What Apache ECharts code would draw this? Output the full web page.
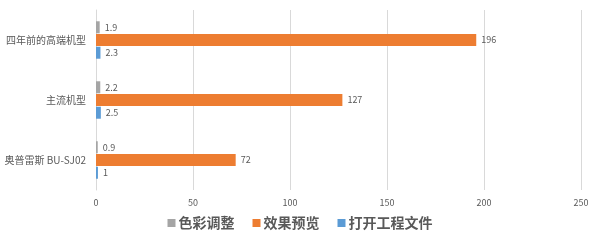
<!DOCTYPE html>
<html><head><meta charset="utf-8">
<script src="https://cdn.jsdelivr.net/npm/echarts@6/dist/echarts.min.js"></script>
<style>html,body{margin:0;padding:0;background:#fff}#c{width:600px;height:243px}</style>
</head><body><div id="c"></div>
<script>
var categories = ['奥普雷斯 BU-SJ02', '主流机型', '四年前的高端机型'];
var colorAdjust = [0.9, 2.2, 1.9];
var preview = [72, 127, 196];
var openProject = [1, 2.5, 2.3];
var seriesNames = ['色彩调整', '效果预览', '打开工程文件'];
var xTicks = { min: 0, max: 250, interval: 50 };

var font = '"Noto Sans CJK SC", "Noto Sans", sans-serif';
var label = { show: true, position: 'right', distance: 5, color: '#595959', fontSize: 9, fontFamily: font };
function mk(name, data, color) {
  return { name: name, type: 'bar', data: data, barWidth: 12, barGap: '6%',
    itemStyle: { color: color }, label: label };
}
var chart = echarts.init(document.getElementById('c'), null, { renderer: 'canvas' });
chart.setOption({
  animation: false,
  grid: { left: 96, right: 19, top: 10, bottom: 53, containLabel: false },
  legend: { data: seriesNames, bottom: 8, left: 'center', itemWidth: 8, itemHeight: 8, itemGap: 18,
    icon: 'rect', textStyle: { fontSize: 14, fontWeight: 'bold', color: '#595959', fontFamily: font, padding: [0,0,0,-2] } },
  xAxis: { type: 'value', min: xTicks.min, max: xTicks.max, interval: xTicks.interval,
    axisLine: { show: false }, axisTick: { show: false },
    axisLabel: { color: '#595959', fontSize: 9, fontFamily: font, margin: 8 },
    splitLine: { lineStyle: { color: '#d9d9d9' } } },
  yAxis: { type: 'category', data: categories,
    axisLine: { show: true, lineStyle: { color: '#d9d9d9' } }, axisTick: { show: false },
    axisLabel: { color: '#595959', fontSize: 10, fontFamily: font, margin: 10 } },
  series: [
    mk(seriesNames[0], colorAdjust, '#A5A5A5'),
    mk(seriesNames[1], preview, '#ED7D31'),
    mk(seriesNames[2], openProject, '#5B9BD5')
  ]
});
</script></body></html>
